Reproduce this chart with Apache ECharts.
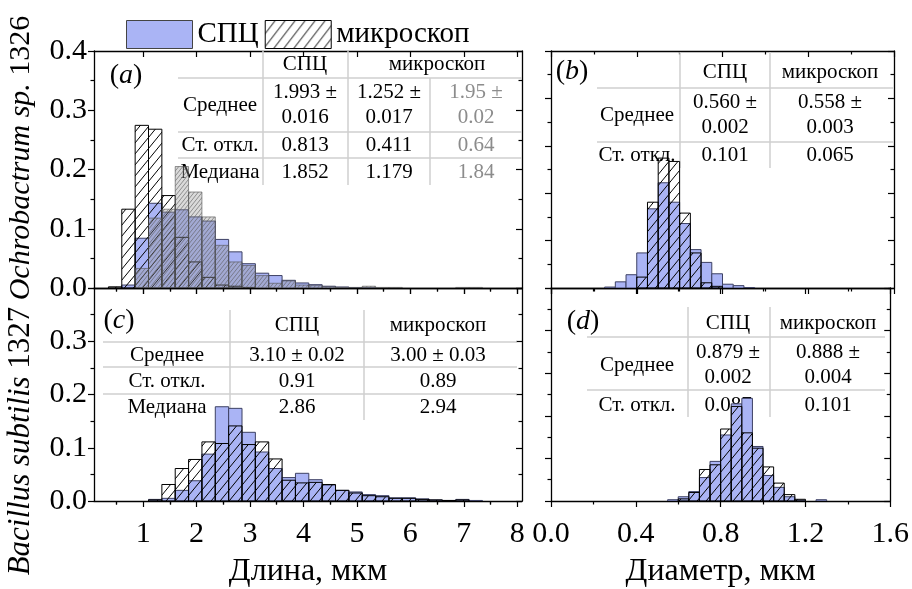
<!DOCTYPE html>
<html><head><meta charset="utf-8">
<script src="https://cdn.jsdelivr.net/npm/echarts@6/dist/echarts.min.js"></script>
<style>html,body{margin:0;padding:0;background:#fff}#c{width:912px;height:589px}</style>
</head><body><div id="c"></div><script>
// ---------- DATA ----------
const lengthBins = [0.475,0.725,0.975,1.225,1.475,1.725,1.975,2.225,2.475,2.725,2.975,3.225,3.475,3.725,3.975,4.225,4.475,4.725,4.975,5.225,5.475,5.725,5.975,6.225,6.475,6.725,6.975,7.225,7.475];
const spcLenA   = [0,0.005,0.084,0.143,0.128,0.132,0.120,0.113,0.082,0.061,0.041,0.025,0.021,0.013,0.0085,0.0056,0.003,0.0017,0.0005,0.001,0,0,0,0,0,0,0,0,0];
const microLenA = [0.002,0.133,0.2745,0.268,0.156,0.0855,0.044,0.018,0.005,0.003,0.001,0,0,0,0,0,0,0,0,0,0,0,0,0,0,0,0,0,0];
const extraLenA = [0,0,0.033,0.118,0.133,0.205,0.162,0.120,0.072,0.044,0.038,0.021,0.008,0.012,0.005,0.004,0.002,0.001,0.001,0.003,0.001,0.001,0,0,0,0,0.001,0.001,0];
const spcLenC   = [0,0,0,0.003,0.005,0.020,0.038,0.088,0.177,0.174,0.129,0.092,0.061,0.044,0.052,0.040,0.030,0.020,0.017,0.012,0.010,0.006,0.006,0.004,0.002,0.001,0.003,0.001,0];
const microLenC = [0,0,0,0.002,0.031,0.061,0.078,0.111,0.108,0.141,0.106,0.111,0.079,0.039,0.034,0.035,0.031,0.020,0.015,0.010,0.008,0.005,0.005,0.003,0.002,0.001,0.002,0,0];

const diamBins = [0.225,0.275,0.325,0.375,0.425,0.475,0.525,0.575,0.625,0.675,0.725,0.775,0.825,0.875,0.925,0.975,1.025,1.075,1.125,1.175,1.225,1.275,1.325,1.375];
const spcDiamB   = [0,0.002,0.013,0.028,0.074,0.167,0.222,0.181,0.136,0.081,0.054,0.030,0.008,0.005,0.001,0,0,0,0,0,0,0,0,0];
const microDiamB = [0,0,0,0,0.023,0.181,0.274,0.267,0.158,0.074,0.011,0.0035,0,0,0,0,0,0,0,0,0,0,0,0];
const spcDiamD   = [0,0,0,0,0,0,0,0.003,0.010,0.022,0.055,0.093,0.155,0.228,0.241,0.128,0.060,0.032,0.010,0.002,0,0.003,0,0];
const microDiamD = [0,0,0,0,0,0,0,0,0.005,0.020,0.074,0.085,0.169,0.222,0.160,0.124,0.080,0.042,0.015,0.004,0,0,0,0];

const lengthTicks = [1,2,3,4,5,6,7,8];
const lengthMinor = [0.5,1.5,2.5,3.5,4.5,5.5,6.5,7.5];

const seriesNames = ['СПЦ','микроскоп'];
const rowNames3 = ['Среднее','Ст. откл.','Медиана'];
const rowNames2 = ['Среднее','Ст. откл.'];
const statsA_spc   = ['1.993 ±\n0.016','0.813','1.852'];
const statsA_micro = ['1.252 ±\n0.017','0.411','1.179'];
const statsA_extra = ['1.95 ±\n0.02','0.64','1.84'];
const statsB_spc   = ['0.560 ±\n0.002','0.101'];
const statsB_micro = ['0.558 ±\n0.003','0.065'];
const statsC_spc   = ['3.10 ± 0.02','0.91','2.86'];
const statsC_micro = ['3.00 ± 0.03','0.89','2.94'];
const statsD_spc   = ['0.879 ±\n0.002','0.087'];
const statsD_micro = ['0.888 ±\n0.004','0.101'];

// ---------- STYLE ----------
const FONT = 'Liberation Serif';
const BLACK = '#000';
const BLUE = '#aab4f5';

function hatch(w, h, stroke, lw, bg) {
  const c = document.createElement('canvas'); c.width = w; c.height = h;
  const g = c.getContext('2d');
  if (bg) { g.fillStyle = bg; g.fillRect(0,0,w,h); }
  g.strokeStyle = stroke; g.lineWidth = lw; g.beginPath();
  for (let k=-1;k<=1;k++){ g.moveTo(k*w, h); g.lineTo(k*w+w, 0); }
  g.stroke();
  return {image: c, repeat: 'repeat'};
}
const microPat = hatch(9, 11, '#000', 1, null);
const extraPat = hatch(4, 5, 'rgba(90,90,90,0.75)', 0.8, 'rgba(150,150,150,0.35)');
const legendPat = hatch(10, 13, '#000', 1, '#fff');

const blueStyle  = {fill: BLUE, stroke: '#3d4063', lineWidth: 1};
const microStyle = {fill: microPat, stroke: '#000', lineWidth: 1};
const extraStyle = {fill: extraPat, stroke: 'rgba(80,80,80,0.6)', lineWidth: 1};

const axLine = {show:true, onZero:false, lineStyle:{color:BLACK, width:1.3}};
function tick(inside, len, vals) {
  const t = {show:true, inside, length:len, lineStyle:{color:BLACK, width:1.2}};
  if (vals) t.customValues = vals;
  return t;
}
const minor = {show:true, splitNumber:2, length:3.5, lineStyle:{color:BLACK, width:1.2}};
const labelFont = {fontFamily:FONT, fontSize:30, color:BLACK};
const nameFont = {fontFamily:FONT, fontSize:32, color:BLACK};

const grids = [
  {left:94, top:51, width:428, height:237},
  {left:551, top:51, width:343, height:237},
  {left:94, top:288, width:428, height:235},
  {left:551, top:288, width:343, height:235}
];

const xAxis = [], yAxis = [], series = [];

function lenAxes(g, showLabels, name) {
  const xi = xAxis.length;
  const base = {gridIndex:g, type:'value', min:0.08, max:8.09, splitLine:{show:false}};
  xAxis.push(Object.assign({}, base, {position:'bottom', axisLine:axLine, axisTick:tick(false,6,lengthTicks),
    axisLabel:Object.assign({show:showLabels, customValues:lengthTicks, margin:18}, labelFont),
    name:name, nameLocation:'middle', nameGap:55, nameTextStyle:nameFont}));
  xAxis.push(Object.assign({}, base, {position:'bottom', axisLine:{show:false}, axisTick:tick(false,3.5,lengthMinor), axisLabel:{show:false}}));
  xAxis.push(Object.assign({}, base, {position:'top', axisLine:axLine, axisTick:tick(true,6,lengthTicks), axisLabel:{show:false}}));
  xAxis.push(Object.assign({}, base, {position:'top', axisLine:{show:false}, axisTick:tick(true,3.5,lengthMinor), axisLabel:{show:false}}));
  return xi;
}
function diamAxes(g, showLabels, name) {
  const xi = xAxis.length;
  const base = {gridIndex:g, type:'value', min:0, max:1.6, interval:0.4, splitLine:{show:false}, minorSplitLine:{show:false}, minorTick:minor};
  xAxis.push(Object.assign({}, base, {position:'bottom', axisLine:axLine, axisTick:tick(false,6),
    axisLabel:Object.assign({show:showLabels, formatter:v=>v.toFixed(1), margin:18}, labelFont),
    name:name, nameLocation:'middle', nameGap:55, nameTextStyle:nameFont}));
  xAxis.push(Object.assign({}, base, {position:'top', axisLine:axLine, axisTick:tick(true,6), axisLabel:{show:false}}));
  return xi;
}
function countAxes(g, max, mode) {
  const yi = yAxis.length;
  const base = {gridIndex:g, type:'value', min:0, max:max, interval:0.1, splitLine:{show:false}, minorSplitLine:{show:false}, minorTick:minor};
  yAxis.push(Object.assign({}, base, {position:'left', axisLine:axLine, axisTick:tick(false,6),
    axisLabel:Object.assign({show:mode>0, showMaxLabel:mode===1, formatter:v=>v.toFixed(1), margin:7}, labelFont)}));
  yAxis.push(Object.assign({}, base, {position:'right', axisLine:axLine, axisTick:tick(true,6), axisLabel:{show:false}}));
  return yi;
}
function hist(name, xi, yi, bins, vals, w, style, color) {
  series.push({
    type:'custom', name, xAxisIndex:xi, yAxisIndex:yi, z:3, silent:true, clip:true,
    itemStyle:{color:color},
    encode:{x:0, y:1},
    data: bins.map((b,i)=>[b, vals[i]]),
    renderItem: function(params, api) {
      const x = api.value(0), v = api.value(1);
      if (!(v > 0)) return null;
      const p1 = api.coord([x - w/2, v]);
      const p2 = api.coord([x + w/2, 0]);
      return {type:'rect', shape:{x:p1[0], y:p1[1], width:p2[0]-p1[0], height:p2[1]-p1[1]}, style:style};
    }
  });
}

// panels
let xi = lenAxes(0, false, ''), yi = countAxes(0, 0.4, 1);
hist(seriesNames[0], xi, yi, lengthBins, spcLenA, 0.25, blueStyle, BLUE);
hist(seriesNames[1], xi, yi, lengthBins, microLenA, 0.25, microStyle, '#fff');
hist('extra', xi, yi, lengthBins, extraLenA, 0.25, extraStyle, '#aaa');

xi = diamAxes(1, false, ''); yi = countAxes(1, 0.5, 0);
hist(seriesNames[0], xi, yi, diamBins, spcDiamB, 0.05, blueStyle, BLUE);
hist(seriesNames[1], xi, yi, diamBins, microDiamB, 0.05, microStyle, '#fff');

xi = lenAxes(2, true, 'Длина, мкм'); yi = countAxes(2, 0.4, 2);
hist(seriesNames[0], xi, yi, lengthBins, spcLenC, 0.25, blueStyle, BLUE);
hist(seriesNames[1], xi, yi, lengthBins, microLenC, 0.25, microStyle, '#fff');

xi = diamAxes(3, true, 'Диаметр, мкм'); yi = countAxes(3, 0.5, 0);
hist(seriesNames[0], xi, yi, diamBins, spcDiamD, 0.05, blueStyle, BLUE);
hist(seriesNames[1], xi, yi, diamBins, microDiamD, 0.05, microStyle, '#fff');

// ---------- graphics (tables, labels) ----------
const graphic = [];
function T(x, y, text, size, extra) {
  graphic.push({type:'text', z:1, x:x, y:y, style:Object.assign({text:text, fontSize:size, fontFamily:FONT, fill:BLACK, align:'center', verticalAlign:'middle', lineHeight:25}, extra||{})});
}
function L(x1,y1,x2,y2) {
  graphic.push({type:'line', z:1, shape:{x1,y1,x2,y2}, style:{stroke:'#cfcfcf', lineWidth:1.5}});
}
const TS = 21;
const ital = {i:{fontStyle:'italic', fontFamily:FONT, fontSize:28, fill:BLACK}};
const ital30 = {i:{fontStyle:'italic', fontFamily:FONT, fontSize:30, fill:BLACK}};
const ital31 = {i:{fontStyle:'italic', fontFamily:FONT, fontSize:31, fill:BLACK}};
function panelLabel(x, y, letter) { T(x, y, '({i|' + letter + '})', 28, {rich:ital}); }

// panel a table
L(263,51,263,185); L(348,51,348,185); L(430,78,430,185);
L(178,78,522,78); L(178,132,522,132); L(178,158,522,158);
T(305,64,seriesNames[0],TS); T(437,64,seriesNames[1],TS);
[105,145,172].forEach((y,i)=>{ T(220,y,rowNames3[i],TS); T(305,y,statsA_spc[i],TS); T(389,y,statsA_micro[i],TS); T(476,y,statsA_extra[i],TS,{fill:'#8c8c8c'}); });
panelLabel(126,76,'a');

// panel b table
L(680,52,680,168); L(770,52,770,168);
L(597,88,893,88); L(597,142,893,142);
T(725,72,seriesNames[0],TS); T(830,72,seriesNames[1],TS);
[115,155].forEach((y,i)=>{ T(637,y,rowNames2[i],TS); T(725,y,statsB_spc[i],TS); T(830,y,statsB_micro[i],TS); });
panelLabel(572,72,'b');

// panel c table
L(230,310,230,420); L(364,310,364,420);
L(103,342,517,342); L(103,367,517,367); L(103,394,517,394);
T(297,325,seriesNames[0],TS); T(438,325,seriesNames[1],TS);
[355,381,407].forEach((y,i)=>{ T(167,y,rowNames3[i],TS); T(297,y,statsC_spc[i],TS); T(438,y,statsC_micro[i],TS); });
panelLabel(119,321,'c');

// panel d table
L(688,307,688,417); L(770,307,770,417);
L(587,337,885,337); L(587,390,885,390);
T(728,323,seriesNames[0],TS); T(828,323,seriesNames[1],TS);
[365,405].forEach((y,i)=>{ T(637,y,rowNames2[i],TS); T(728,y,statsD_spc[i],TS); T(828,y,statsD_micro[i],TS); });
panelLabel(583,322,'d');

// species labels
graphic.push({type:'text', z:1, x:21, y:158, rotation:Math.PI/2, style:{text:'{i|Ochrobactrum sp.} 1326', rich:ital30, fontSize:30, fontFamily:FONT, fill:BLACK, align:'center', verticalAlign:'middle'}});
graphic.push({type:'text', z:1, x:21, y:441, rotation:Math.PI/2, style:{text:'{i|Bacillus subtilis} 1327', rich:ital31, fontSize:31, fontFamily:FONT, fill:BLACK, align:'center', verticalAlign:'middle'}});

const chart = echarts.init(document.getElementById('c'), null, {renderer:'canvas'});
chart.setOption({
  animation:false,
  backgroundColor:'#fff',
  grid: grids,
  xAxis: xAxis,
  yAxis: yAxis,
  legend: {
    left:121, top:15, itemWidth:66, itemHeight:28, itemGap:6, icon:'rect', selectedMode:false,
    textStyle:{fontFamily:FONT, fontSize:29, color:BLACK},
    data:[
      {name:seriesNames[0], itemStyle:{color:BLUE, borderColor:'#444', borderWidth:1}},
      {name:seriesNames[1], itemStyle:{color:legendPat, borderColor:'#000', borderWidth:1}}
    ]
  },
  graphic: graphic,
  series: series
});
</script></body></html>
